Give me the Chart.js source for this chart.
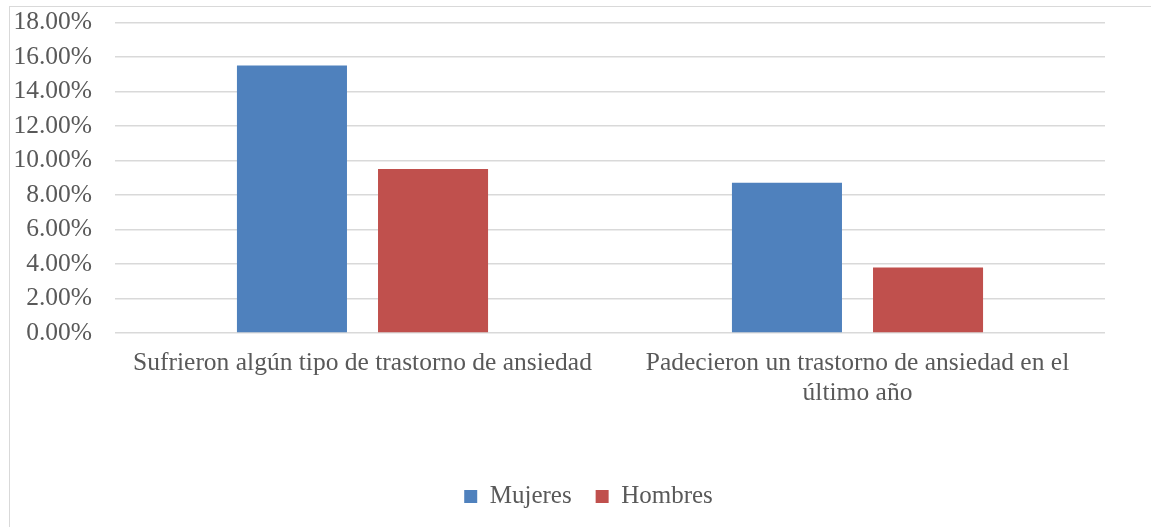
<!DOCTYPE html>
<html>
<head>
<meta charset="utf-8">
<script src="https://cdn.jsdelivr.net/npm/chart.js@4"></script>
<style>
  html, body { margin: 0; padding: 0; background: #fff; }
  body { width: 1151px; height: 527px; overflow: hidden; position: relative; }
  #frame { position: absolute; left: 9px; top: 6px; width: 1200px; height: 600px; border: 1.5px solid #d9d9d9; box-sizing: border-box; }
  #wrap { position: absolute; left: 0; top: -16px; width: 1151px; height: 543px; }
</style>
</head>
<body>
<div id="frame"></div>
<div id="wrap"><canvas id="c" width="1151" height="543"></canvas></div>
<script>
const categories = [
  "Sufrieron algún tipo de trastorno de ansiedad",
  ["Padecieron un trastorno de ansiedad en el", "último año"]
];
const seriesNames = ["Mujeres", "Hombres"];
const mujeres = [15.5, 8.7];
const hombres = [9.5, 3.8];
const yTicks = [0, 2, 4, 6, 8, 10, 12, 14, 16, 18];

const FONT = "'Liberation Serif', 'Times New Roman', serif";
const TEXT = "#595959";
const FS = 25.5;

const legendShift = {
  id: 'legendShift',
  afterLayout(chart) {
    if (chart.legend) { chart.legend.left += 36; chart.legend.right += 36; }
  }
};

new Chart(document.getElementById('c'), {
  type: 'bar',
  data: {
    labels: categories,
    datasets: [
      { label: seriesNames[0], data: mujeres, backgroundColor: '#4F81BD', borderWidth: 0 },
      { label: seriesNames[1], data: hombres, backgroundColor: '#C0504D', borderWidth: 0 }
    ]
  },
  plugins: [legendShift],
  options: {
    responsive: false,
    animation: false,
    devicePixelRatio: 1,
    categoryPercentage: 0.57,
    barPercentage: 0.78,
    layout: { padding: { top: 8, right: 46, left: 0, bottom: 8 } },
    plugins: {
      tooltip: { enabled: false },
      legend: {
        position: 'bottom',
        labels: {
          font: { family: FONT, size: 25 },
          color: TEXT,
          boxWidth: 13,
          boxHeight: 13,
          padding: 24
        }
      }
    },
    scales: {
      x: {
        grid: { display: false, drawTicks: false },
        border: { display: false },
        ticks: {
          font: { family: FONT, size: FS, lineHeight: 1.15 },
          color: TEXT,
          maxRotation: 0,
          autoSkip: false,
          padding: 16
        },
        afterFit: (s) => { s.height = 127; }
      },
      y: {
        min: 0,
        max: 18,
        afterBuildTicks: (s) => { s.ticks = yTicks.map(v => ({ value: v })); },
        grid: { color: '#d9d9d9', lineWidth: 1.5, drawTicks: false },
        border: { display: false },
        ticks: {
          font: { family: FONT, size: FS },
          color: TEXT,
          padding: 23,
          callback: (v) => v.toFixed(2) + '%'
        },
        afterFit: (s) => { s.width = 115; }
      }
    }
  }
});
</script>
</body>
</html>
